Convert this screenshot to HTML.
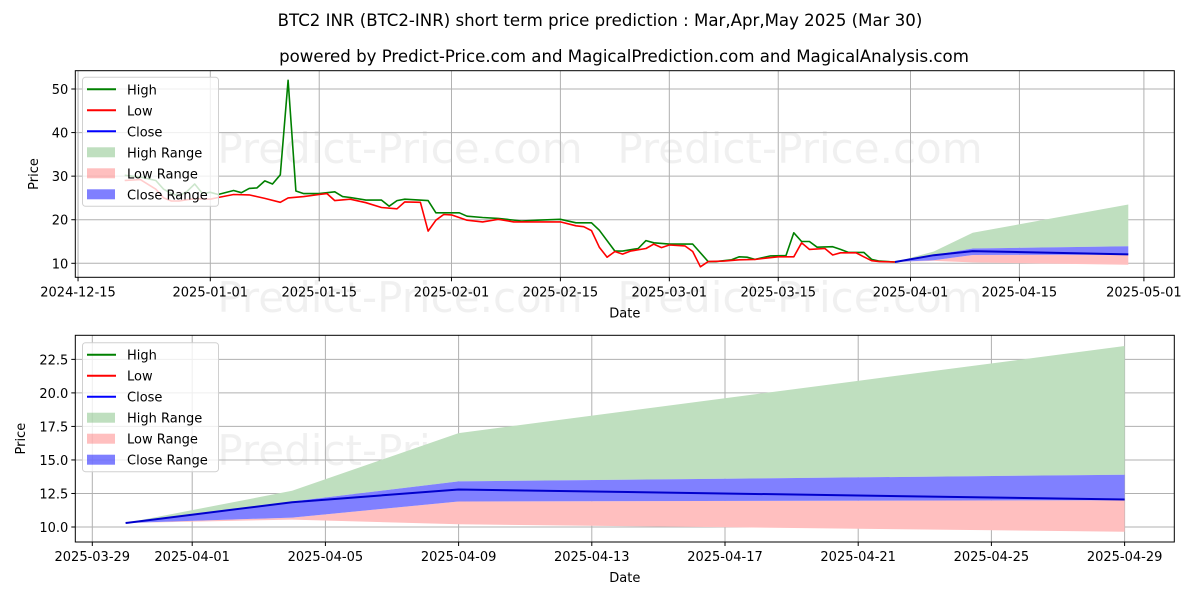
<!DOCTYPE html>
<html><head><meta charset="utf-8"><style>
html,body{margin:0;padding:0;background:#fff;width:1200px;height:600px;overflow:hidden}
svg{display:block;font-family:"DejaVu Sans","Liberation Sans",sans-serif}
</style></head><body>
<svg id="chart" width="1200" height="600" viewBox="0 0 1200 600" xmlns="http://www.w3.org/2000/svg">
<text x="600" y="26" font-size="16.6" text-anchor="middle">BTC2 INR (BTC2-INR) short term price prediction : Mar,Apr,May 2025 (Mar 30)</text>
<text x="624" y="62" font-size="16.6" text-anchor="middle">powered by Predict-Price.com and MagicalPrediction.com and MagicalAnalysis.com</text>
<g id="top"></g>
<g id="bot"></g>
</svg>
<script>
// History data (day offsets from 2025-01-01)
const highDays=[-11,-9,-7,-6,-5,-4,-3,-2,-1,0,1,3,4,5,6,7,8,9,10,11,12,14,16,17,18,20,22,23,24,25,28,29,32,33,35,37,40,42,45,47,49,50,52,53,55,56,57,59,62,64,65,67,68,69,70,72,74,75,76,77,78,80,81,82,84,85,86,88];
const highVals=[30.2,29.8,29,27,26,25.5,26.5,28.2,26,26.3,25.8,26.7,26.2,27.2,27.3,28.9,28.2,30.3,52,26.6,26,26,26.4,25.3,25.1,24.5,24.5,23.1,24.4,24.7,24.4,21.6,21.6,20.8,20.5,20.3,19.7,19.9,20.1,19.3,19.3,17.6,12.8,12.8,13.4,15.2,14.7,14.4,14.4,10.4,10.4,10.8,11.5,11.4,10.9,11.7,11.8,17,15,15,13.7,13.8,13.2,12.5,12.5,10.9,10.5,10.3];
const lowDays=[-11,-9,-7,-6,-5,-4,-3,-2,-1,0,1,3,5,6,7,9,10,12,14,15,16,18,20,22,24,25,27,28,29,30,31,33,35,37,39,42,45,47,48,49,50,51,52,53,54,56,57,58,59,61,62,63,64,66,68,70,73,75,76,77,79,80,81,83,84,85,86,88];
const lowVals=[29,29.2,27,25,24.3,24.3,24.6,24.8,24.8,24.7,25.1,25.8,25.7,25.3,24.9,24,25,25.3,25.8,26,24.4,24.7,23.9,22.8,22.5,24.1,24,17.4,19.9,21.2,21.1,19.9,19.5,20.1,19.5,19.5,19.5,18.6,18.4,17.5,13.7,11.4,12.7,12.1,12.8,13.4,14.4,13.6,14.2,14,12.7,9.2,10.4,10.5,10.8,10.9,11.5,11.5,14.7,13.2,13.4,11.9,12.4,12.4,11.5,10.6,10.4,10.3];
// Forecast data (day offsets from 2025-01-01: 88=03-30, 93=04-04, 98=04-09, 118=04-29)
const fcDays=[88,93,98,118];
const fcHighUpper=[10.3,12.7,17.0,23.5];
const fcCloseUpper=[10.3,11.9,13.4,13.9];
const fcClose=[10.3,11.85,12.8,12.05];
const fcCloseLower=[10.3,10.7,11.9,12.0];
const fcLowLower=[10.3,10.55,10.2,9.65];
const topXTicks=["2024-12-15","2025-01-01","2025-01-15","2025-02-01","2025-02-15","2025-03-01","2025-03-15","2025-04-01","2025-04-15","2025-05-01"];
const topXTickDays=[-17,0,14,31,45,59,73,90,104,120];
const topYTicks=[10,20,30,40,50];
const botXTicks=["2025-03-29","2025-04-01","2025-04-05","2025-04-09","2025-04-13","2025-04-17","2025-04-21","2025-04-25","2025-04-29"];
const botXTickDays=[87,90,94,98,102,106,110,114,118];
const botYTicks=[10.0,12.5,15.0,17.5,20.0,22.5];

const NS="http://www.w3.org/2000/svg";
function mk(parent,tag,attrs,text){const e=document.createElementNS(NS,tag);for(const k in attrs)e.setAttribute(k,attrs[k]);if(text!==undefined)e.textContent=text;parent.appendChild(e);return e;}

function panel(g,box,xs,ys,xTicks,xTickDays,yTicks,yFmt,drawData,legendTop,wmPos,priceX){
  const {l,t,r,b}=box;
  wmPos.forEach(p=>{
    const w=mk(g,'text',{x:p[0],y:p[1],'font-size':42,'text-anchor':'middle',fill:'#000','fill-opacity':0.06});
    w.textContent='Predict-Price.com';
    
    
  });
  xTickDays.forEach((d,i)=>{const x=xs(d);
    const gl=mk(g,'line',{x1:x,x2:x,y1:t,y2:b,stroke:'#b0b0b0','stroke-width':1});
    
    
    mk(g,'line',{x1:x,x2:x,y1:b,y2:b+4,stroke:'#000'});
    const tl=mk(g,'text',{x:x,y:b+19,'font-size':13,'text-anchor':'middle'},xTicks[i]);
    
    
  });
  yTicks.forEach(v=>{const y=ys(v);
    const gl=mk(g,'line',{x1:l,x2:r,y1:y,y2:y,stroke:'#b0b0b0','stroke-width':1});
    
    
    mk(g,'line',{x1:l-4,x2:l,y1:y,y2:y,stroke:'#000'});
    const tl=mk(g,'text',{x:l-7,y:y+5,'font-size':13,'text-anchor':'end'},yFmt(v));
    
    
  });
  drawData(g);
  const fr=mk(g,'rect',{x:l,y:t,width:r-l,height:b-t,fill:'none',stroke:'#000','stroke-width':1});
  
  
  const xt=mk(g,'text',{x:(l+r)/2,y:b+40,'font-size':13,'text-anchor':'middle'},'Date');
  
  
  const cy=(t+b)/2;
  const yt=mk(g,'text',{x:priceX,y:cy,'font-size':13,'text-anchor':'middle',transform:`rotate(-90 ${priceX} ${cy})`},'Price');
  
  
  const lg=mk(g,'g',{});
  
  
  mk(lg,'rect',{x:82.5,y:legendTop,width:136,height:129,rx:3,fill:'#fff','fill-opacity':0.8,stroke:'#d0d0d0'});
  const items=[['High','line','#008000'],['Low','line','#ff0000'],['Close','line','#0000ff'],['High Range','patch','rgba(0,128,0,0.25)'],['Low Range','patch','rgba(255,0,0,0.25)'],['Close Range','patch','rgba(0,0,255,0.5)']];
  items.forEach((it,i)=>{const y=legendTop+12+i*21;
    const eg=mk(lg,'g',{});
    
    
    if(it[1]==='line')mk(eg,'line',{x1:87,x2:116,y1:y,y2:y,stroke:it[2],'stroke-width':2});
    else mk(eg,'rect',{x:87,y:y-5,width:28,height:10,fill:it[2]});
    mk(eg,'text',{x:127,y:y+5,'font-size':13},it[0]);
  });
}

function pts(days,vals,xs,ys){return days.map((d,i)=>xs(d).toFixed(1)+','+ys(vals[i]).toFixed(1));}
function band(g,name,days,up,lo,xs,ys,fill){
  const p=pts(days,up,xs,ys).concat(pts(days,lo,xs,ys).reverse());
  const e=mk(g,'polygon',{points:p.join(' '),fill:fill,stroke:'none'});
  
  
}
function line(g,name,days,vals,xs,ys,col,w){
  const e=mk(g,'polyline',{points:pts(days,vals,xs,ys).join(' '),fill:'none',stroke:col,'stroke-width':w,'stroke-linejoin':'round'});
  
  
}
function drawForecast(g,xs,ys,w){
  band(g,'high-range-band',fcDays,fcHighUpper,fcCloseUpper,xs,ys,'rgb(191,223,191)');
  band(g,'low-range-band',fcDays,fcCloseLower,fcLowLower,xs,ys,'rgb(255,191,191)');
  band(g,'close-range-band',fcDays,fcCloseUpper,fcCloseLower,xs,ys,'rgb(128,128,255)');
  line(g,'close-line',fcDays,fcClose,xs,ys,'#0000cc',w);
}

const T={l:75.3,t:70.7,r:1174.3,b:277.3};
const txs=d=>210.3+d*7.78;
const tys=v=>263.3-(v-10)*4.3575;
panel(document.getElementById('top'),T,txs,tys,topXTicks,topXTickDays,topYTicks,v=>String(v),g=>{
  drawForecast(g,txs,tys,2);
  line(g,'high-line',highDays,highVals,txs,tys,'#008000',1.6);
  line(g,'low-line',lowDays,lowVals,txs,tys,'#ff0000',1.6);
},77.3,[[400,163],[800,163],[400,312],[800,312]],38);

const B={l:75.3,t:335.3,r:1174.3,b:542};
const bxs=d=>92.3+(d-87)*33.3;
const bys=v=>527-(v-10)*13.41;
panel(document.getElementById('bot'),B,bxs,bys,botXTicks,botXTickDays,botYTicks,v=>v.toFixed(1),g=>{
  drawForecast(g,bxs,bys,2);
},342.7,[[400,465],[800,465]],25);
</script>
</body></html>
